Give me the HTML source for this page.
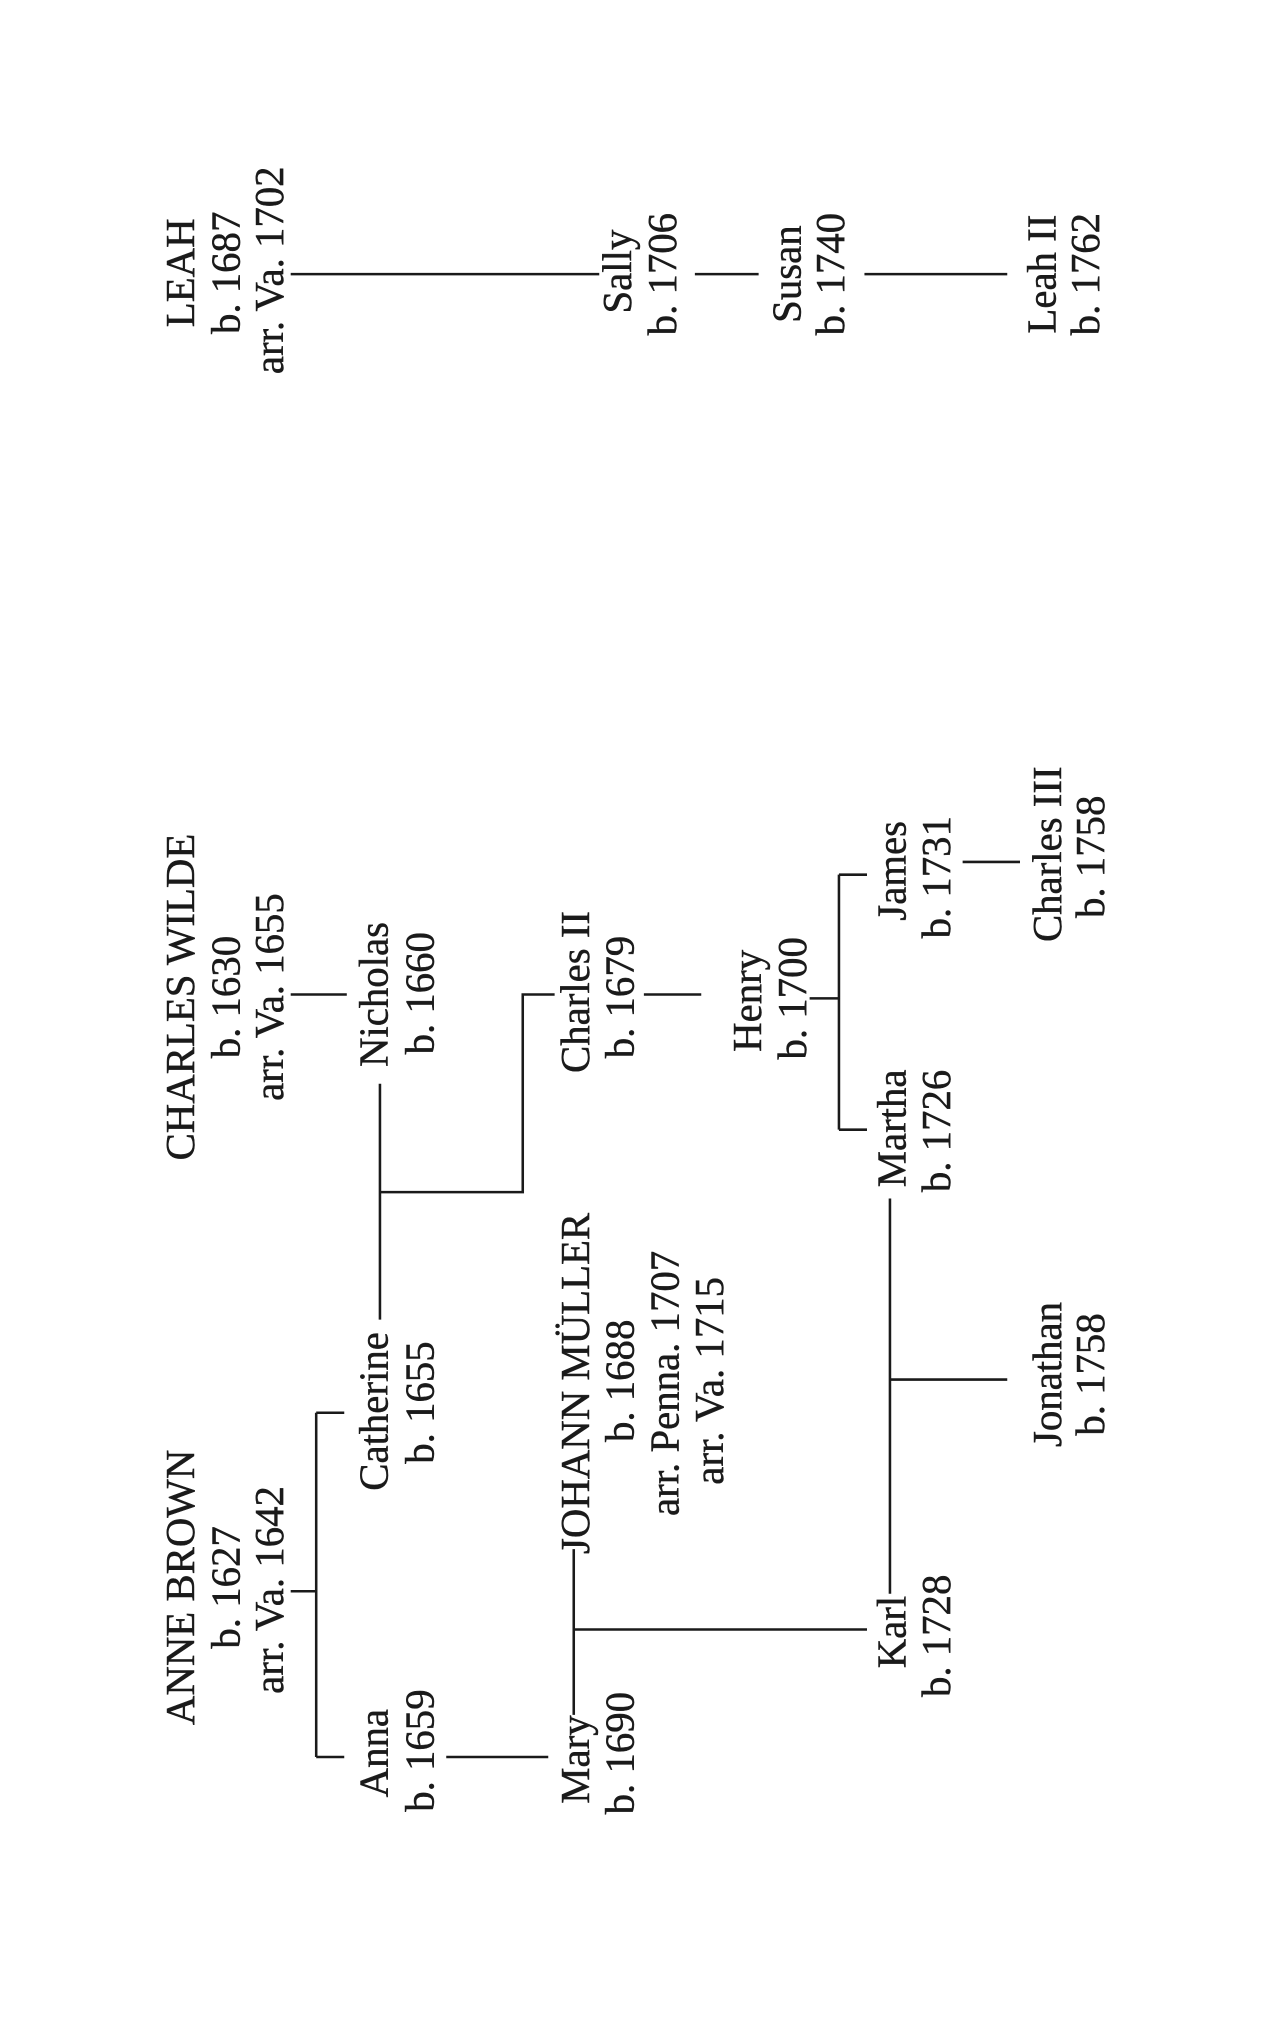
<!DOCTYPE html>
<html><head><meta charset="utf-8"><style>
html,body{margin:0;padding:0;background:#fff;}
svg{display:block;}
text{font-family:"Liberation Serif",serif;font-size:32px;fill:#1a1a1a;stroke:#1a1a1a;stroke-width:0.35;text-anchor:middle;}
</style></head><body>
<svg width="1275" height="2025" viewBox="0 0 1000 1588.2" preserveAspectRatio="none" xmlns="http://www.w3.org/2000/svg">
<g stroke="#1a1a1a" stroke-width="2" fill="none">
<path d="M228 1248H248M248 1108V1378M248 1108H270M248 1378H270"/>
<path d="M350 1378H430"/>
<path d="M450 1215V1345M450 1278H680"/>
<path d="M698 940V1250M698 1082H790"/>
<path d="M298 850V1035M298 935H410V780H435"/>
<path d="M228 780H272"/>
<path d="M505 780H550"/>
<path d="M635 783H658M658 686V886M658 686H680M658 886H680"/>
<path d="M755 676H800"/>
<path d="M228 215H470M545 215H595M678 215H790"/>
</g>
<g>
<text transform="translate(152,1245) rotate(-90)">ANNE BROWN</text>
<text transform="translate(188,1245) rotate(-90)">b. 1627</text>
<text transform="translate(222,1247) rotate(-90)">arr. Va. 1642</text>

<text transform="translate(152,782) rotate(-90)">CHARLES WILDE</text>
<text transform="translate(188,782) rotate(-90)">b. 1630</text>
<text transform="translate(222,782) rotate(-90)">arr. Va. 1655</text>

<text transform="translate(152,214) rotate(-90)">LEAH</text>
<text transform="translate(188,214) rotate(-90)">b. 1687</text>
<text transform="translate(222,212) rotate(-90)">arr. Va. 1702</text>

<text transform="translate(304,1107) rotate(-90)">Catherine</text>
<text transform="translate(340,1100) rotate(-90)">b. 1655</text>

<text transform="translate(304,1375) rotate(-90)">Anna</text>
<text transform="translate(340,1373) rotate(-90)">b. 1659</text>

<text transform="translate(304,780) rotate(-90)">Nicholas</text>
<text transform="translate(340,779) rotate(-90)">b. 1660</text>

<text transform="translate(462,1380) rotate(-90)">Mary</text>
<text transform="translate(497,1375) rotate(-90)">b. 1690</text>

<text transform="translate(462,1085) rotate(-90)">JOHANN MÜLLER</text>
<text transform="translate(497,1083) rotate(-90)">b. 1688</text>
<text transform="translate(532,1085) rotate(-90)">arr. Penna. 1707</text>
<text transform="translate(567,1083) rotate(-90)">arr. Va. 1715</text>

<text transform="translate(462,778) rotate(-90)">Charles II</text>
<text transform="translate(497,782) rotate(-90)">b. 1679</text>

<text transform="translate(597,785) rotate(-90)">Henry</text>
<text transform="translate(632,783) rotate(-90)">b. 1700</text>

<text transform="translate(495,213) rotate(-90)">Sally</text>
<text transform="translate(530,215) rotate(-90)">b. 1706</text>

<text transform="translate(628,215) rotate(-90)">Susan</text>
<text transform="translate(662,215) rotate(-90)">b. 1740</text>

<text transform="translate(828,215) rotate(-90)">Leah II</text>
<text transform="translate(862,215) rotate(-90)">b. 1762</text>

<text transform="translate(710,885) rotate(-90)">Martha</text>
<text transform="translate(745,887) rotate(-90)">b. 1726</text>

<text transform="translate(710,683) rotate(-90)">James</text>
<text transform="translate(745,688) rotate(-90)">b. 1731</text>

<text transform="translate(710,1280) rotate(-90)">Karl</text>
<text transform="translate(745,1283) rotate(-90)">b. 1728</text>

<text transform="translate(832,670) rotate(-90)">Charles III</text>
<text transform="translate(866,672) rotate(-90)">b. 1758</text>

<text transform="translate(832,1078) rotate(-90)">Jonathan</text>
<text transform="translate(866,1078) rotate(-90)">b. 1758</text>
</g>
</svg>
</body></html>
